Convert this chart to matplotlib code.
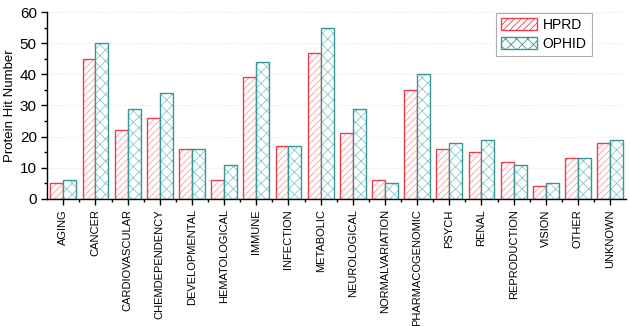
import numpy as np
import matplotlib
matplotlib.use("Agg")
import matplotlib.pyplot as plt
from matplotlib.patches import Patch
from matplotlib.ticker import MultipleLocator

plt.rcParams['font.family'] = ['Liberation Sans', 'DejaVu Sans']
plt.rcParams['hatch.linewidth'] = 0.6

categories = ['AGING', 'CANCER', 'CARDIOVASCULAR', 'CHEMDEPENDENCY', 'DEVELOPMENTAL',
              'HEMATOLOGICAL', 'IMMUNE', 'INFECTION', 'METABOLIC', 'NEUROLOGICAL',
              'NORMALVARIATION', 'PHARMACOGENOMIC', 'PSYCH', 'RENAL', 'REPRODUCTION',
              'VISION', 'OTHER', 'UNKNOWN']
hprd = [5, 45, 22, 26, 16, 6, 39, 17, 47, 21, 6, 35, 16, 15, 12, 4, 13, 18]
ophid = [6, 50, 29, 34, 16, 11, 44, 17, 55, 29, 5, 40, 18, 19, 11, 5, 13, 19]

red_edge = '#e8414d'
red_hatch = '#f2a0a6'
teal_edge = '#3a9696'
teal_hatch = '#8cc7c7'

fig = plt.figure(figsize=(6.3, 3.26), dpi=100)
ax = fig.add_axes([0.075, 0.39, 0.919, 0.573])

x = np.arange(len(categories))
w = 0.4

# hatch layer then outline layer
ax.bar(x - w/2, hprd, w, facecolor='white', edgecolor=red_hatch, hatch='/////', linewidth=0)
ax.bar(x - w/2, hprd, w, facecolor='none', edgecolor=red_edge, linewidth=1.0)
ax.bar(x + w/2, ophid, w, facecolor='white', edgecolor=teal_hatch, hatch='xxx', linewidth=0)
ax.bar(x + w/2, ophid, w, facecolor='none', edgecolor=teal_edge, linewidth=1.0)

ax.set_xlim(-0.5, len(categories) - 0.5)
ax.set_ylim(0, 60)
ax.set_xticks(x)
ax.set_xticklabels(categories, rotation=90, fontsize=8)
ax.set_xticks(x[:-1] + 0.5, minor=True)
ax.yaxis.set_major_locator(MultipleLocator(10))
ax.yaxis.set_minor_locator(MultipleLocator(5))
ax.tick_params(axis='y', labelsize=11, length=4, width=1)
ax.tick_params(axis='x', length=4, width=1)
ax.tick_params(which='minor', length=2.5, width=1)
ax.set_ylabel('Protein Hit Number', fontsize=9.5, labelpad=3)

ax.yaxis.grid(True, color='#eeeeee', linewidth=0.6, linestyle='--')
ax.set_axisbelow(True)

for s in ['top', 'right']:
    ax.spines[s].set_visible(False)
ax.spines['left'].set_linewidth(1)
ax.spines['bottom'].set_linewidth(1)

handles = [Patch(facecolor='white', edgecolor=red_edge, hatch='/////', label='HPRD'),
           Patch(facecolor='white', edgecolor=teal_edge, hatch='xxx', label='OPHID')]
leg = ax.legend(handles=handles, loc='upper right', bbox_to_anchor=(0.945, 1.01),
                fontsize=10, frameon=True, fancybox=False, edgecolor='#999999',
                handlelength=2.6, handleheight=1.0, handletextpad=0.4,
                borderpad=0.35, labelspacing=0.35, borderaxespad=0.2)
leg.get_frame().set_linewidth(0.8)

fig.savefig('out.png', dpi=100)
